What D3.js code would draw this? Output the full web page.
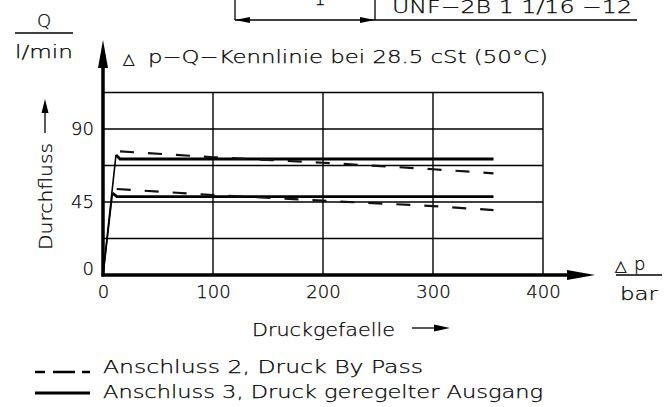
<!DOCTYPE html>
<html><head><meta charset="utf-8">
<script src="https://cdn.jsdelivr.net/npm/d3@7"></script>
<style>
html,body{margin:0;padding:0;background:#fff;}
svg{display:block;}
text{font-family:"DejaVu Sans",sans-serif;font-weight:300;fill:#000;stroke:#000;stroke-width:0.25px;}
</style></head>
<body>
<svg id="c" width="669" height="407"></svg>
<script>
// ---- data ----
const xTicks = [0, 100, 200, 300, 400];
const yTickLabels = [0, 45, 90];
const yGrid = [22.5, 45, 67.5, 90, 112.5];
const xGrid = [100, 200, 300, 400];
// Anschluss 3 (solid), Anschluss 2 (dashed) : [Δp bar, Q l/min]
const outlet3High = [[0,0],[11.8,74],[15.5,71.5],[355,71.5]];
const outlet3Low  = [[0,0],[8.6,50.5],[12.7,48.3],[355,48.3]];
const bypass2High = [[15.5,76.2],[100,72.6],[200,69.2],[300,65.2],[355,62.7]];
const bypass2Low  = [[12.5,53],[100,49.3],[200,45.8],[300,42.5],[355,40]];
const legendLabels = ["Anschluss 2, Druck By Pass", "Anschluss 3, Druck geregelter Ausgang"];

const svg = d3.select("#c");
const x = d3.scaleLinear().domain([0, 400]).range([103, 543]);
const y = d3.scaleLinear().domain([0, 112.5]).range([275, 92.5]);

function arrowHead(tx, ty, dir, len, half){
  let p;
  if(dir==='up') p=[[tx,ty],[tx-half,ty+len],[tx+half,ty+len]];
  else if(dir==='right') p=[[tx,ty],[tx-len,ty-half],[tx-len,ty+half]];
  else p=[[tx,ty],[tx+len,ty-half],[tx+len,ty+half]];
  svg.append("path").attr("d","M"+p.map(d=>d.join(",")).join("L")+"Z").attr("fill","#000");
}

// ---- clipped drawing fragment at top ----
svg.append("line").attr("x1",235).attr("x2",235).attr("y1",0).attr("y2",20).attr("stroke","#000").attr("stroke-width",1.3);
svg.append("line").attr("x1",375).attr("x2",375).attr("y1",0).attr("y2",20).attr("stroke","#000").attr("stroke-width",1.3);
svg.append("line").attr("x1",235).attr("x2",637).attr("y1",20).attr("y2",20).attr("stroke","#000").attr("stroke-width",1.3);
arrowHead(235,20,'left',15,3);
arrowHead(375,20,'right',15,3);
svg.append("text").attr("x",320).attr("y",5).attr("font-size",18).attr("text-anchor","middle").text("1");
svg.append("text").attr("x",392).attr("y",13).attr("font-size",18)
  .attr("textLength",240).attr("lengthAdjust","spacingAndGlyphs").text("UNF−2B  1  1/16  −12");

// ---- Q / l/min unit ----
svg.append("text").attr("x",44).attr("y",27).attr("font-size",18).attr("text-anchor","middle").text("Q");
svg.append("line").attr("x1",15).attr("x2",73).attr("y1",33).attr("y2",33).attr("stroke","#000").attr("stroke-width",1.3);
svg.append("text").attr("x",15).attr("y",58).attr("font-size",18).attr("textLength",58).attr("lengthAdjust","spacingAndGlyphs").text("l/min");

// ---- title ----
svg.append("text").attr("x",123).attr("y",64).attr("font-size",15).text("△");
svg.append("text").attr("x",148).attr("y",63).attr("font-size",18)
  .attr("textLength",400).attr("lengthAdjust","spacingAndGlyphs").text("p−Q−Kennlinie  bei  28.5  cSt  (50°C)");

// ---- grid ----
const g = svg.append("g");
g.selectAll(".hg").data(yGrid).join("line")
  .attr("x1",x(0)).attr("x2",x(400)).attr("y1",d=>y(d)).attr("y2",d=>y(d))
  .attr("stroke","#000").attr("stroke-width",1.4);
g.selectAll(".vg").data(xGrid).join("line")
  .attr("x1",d=>x(d)).attr("x2",d=>x(d)).attr("y1",y(0)).attr("y2",y(112.5))
  .attr("stroke","#000").attr("stroke-width",1.4);

// ---- axes (labels via d3 axes) ----
const xAxis = svg.append("g").attr("transform","translate(0,"+y(0)+")")
  .call(d3.axisBottom(x).tickValues(xTicks).tickSize(0).tickPadding(10).tickFormat(d3.format("d")));
xAxis.select(".domain").remove();
xAxis.selectAll("text").attr("font-size",18).attr("font-family","DejaVu Sans").attr("fill","#000");
const yAxis = svg.append("g").attr("transform","translate(94,0)")
  .call(d3.axisLeft(y).tickValues(yTickLabels).tickSize(0).tickPadding(0).tickFormat(d3.format("d")));
yAxis.select(".domain").remove();
yAxis.selectAll("text").attr("font-size",18).attr("font-family","DejaVu Sans").attr("fill","#000")
  .attr("dy",d=>d===0?"-0.05em":"0.32em");

// axis lines with arrows
svg.append("line").attr("x1",x(0)).attr("x2",x(0)).attr("y1",y(0)+1.5).attr("y2",60).attr("stroke","#000").attr("stroke-width",3.5);
arrowHead(x(0),40,'up',28,5);
svg.append("line").attr("x1",x(0)-1.5).attr("x2",575).attr("y1",y(0)).attr("y2",y(0)).attr("stroke","#000").attr("stroke-width",3.5);
arrowHead(595,y(0),'right',28,5);

// ---- data lines ----
const line = d3.line().x(d=>x(d[0])).y(d=>y(d[1]));
[outlet3High, outlet3Low].forEach(s=>{
  svg.append("path").attr("d",line(s.slice(0,2))).attr("fill","none").attr("stroke","#000").attr("stroke-width",1.6);
  svg.append("path").attr("d",line(s.slice(1))).attr("fill","none").attr("stroke","#000").attr("stroke-width",2.8).attr("stroke-linejoin","miter");
});
[bypass2High, bypass2Low].forEach(s=>{
  svg.append("path").attr("d",line(s)).attr("fill","none").attr("stroke","#111").attr("stroke-width",2.2).attr("stroke-dasharray","14,14");
});

// ---- Δp / bar unit ----
svg.append("text").attr("x",615).attr("y",271).attr("font-size",15).text("△");
svg.append("text").attr("x",634).attr("y",270).attr("font-size",18).text("p");
svg.append("line").attr("x1",616).attr("x2",662).attr("y1",275).attr("y2",275).attr("stroke","#000").attr("stroke-width",1.3);
svg.append("text").attr("x",620).attr("y",300).attr("font-size",18).attr("textLength",38).attr("lengthAdjust","spacingAndGlyphs").text("bar");

// ---- y label ----
svg.append("text").attr("transform","translate(51.5,250) rotate(-90)").attr("font-size",18)
  .attr("textLength",107).attr("lengthAdjust","spacingAndGlyphs").text("Durchfluss");
svg.append("line").attr("x1",45).attr("x2",45).attr("y1",133).attr("y2",110).attr("stroke","#000").attr("stroke-width",1.3);
arrowHead(45,99,'up',14,3.5);

// ---- x label ----
svg.append("text").attr("x",252).attr("y",336).attr("font-size",18)
  .attr("textLength",143).attr("lengthAdjust","spacingAndGlyphs").text("Druckgefaelle");
svg.append("line").attr("x1",412).attr("x2",436).attr("y1",328).attr("y2",328).attr("stroke","#000").attr("stroke-width",1.3);
arrowHead(450,328,'right',16,3.5);

// ---- legend ----
svg.append("line").attr("x1",35).attr("x2",90).attr("y1",372).attr("y2",372).attr("stroke","#000").attr("stroke-width",2.5).attr("stroke-dasharray","10,8,22,7,8");
svg.append("text").attr("x",103).attr("y",373).attr("font-size",18)
  .attr("textLength",320).attr("lengthAdjust","spacingAndGlyphs").text(legendLabels[0]);
svg.append("line").attr("x1",35).attr("x2",90).attr("y1",393).attr("y2",393).attr("stroke","#000").attr("stroke-width",3);
svg.append("text").attr("x",103).attr("y",398).attr("font-size",18)
  .attr("textLength",440).attr("lengthAdjust","spacingAndGlyphs").text(legendLabels[1]);
</script>
</body></html>
